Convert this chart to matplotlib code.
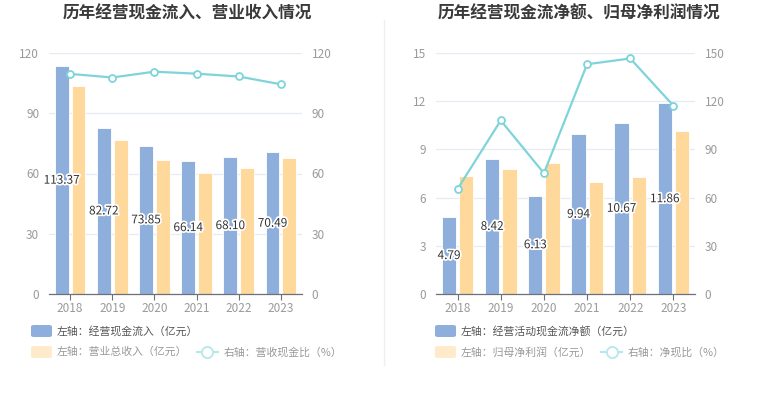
import matplotlib
matplotlib.use("Agg")
import matplotlib.pyplot as plt
import matplotlib.patheffects as pe
from matplotlib.patches import FancyBboxPatch
from matplotlib.lines import Line2D
import numpy as np

plt.rcParams['font.family'] = ['Noto Sans CJK SC', 'DejaVu Sans']

years = ['2018', '2019', '2020', '2021', '2022', '2023']

# Left chart
cash_inflow = [113.37, 82.72, 73.85, 66.14, 68.10, 70.49]
revenue = [103.4, 76.7, 66.7, 60.3, 62.9, 67.5]
rev_cash_ratio = [109.6, 107.8, 110.7, 109.7, 108.3, 104.4]

# Right chart
net_cash = [4.79, 8.42, 6.13, 9.94, 10.67, 11.86]
net_profit = [7.32, 7.80, 8.15, 6.95, 7.28, 10.12]
net_cash_ratio = [65.4, 108.0, 75.2, 143.0, 146.6, 117.2]

W, H = 765, 393
fig = plt.figure(figsize=(W / 100, H / 100), dpi=100)
fig.patch.set_facecolor('white')

BLUE = '#8eaedc'
ORANGE = '#ffd89b'
CYAN = '#7fd4da'
GRID = '#e6ebf3'
TICK = '#9a9a9a'


def px_axes(x0, x1, ytop, ybot):
    return fig.add_axes([x0 / W, (H - ybot) / H, (x1 - x0) / W, (ybot - ytop) / H])


def draw_panel(x0, x1, bars1, bars2, ratio, ymax, rmax, nint, title, tx, leg1, leg2, leg3, lx):
    ax = px_axes(x0, x1, 53, 294)
    x = np.arange(len(years))
    bw = 0.33
    ax.bar(x - bw / 2 - 0.035, bars1, width=bw, color=BLUE, edgecolor='white', linewidth=0.6, zorder=2)
    ax.bar(x + bw / 2 + 0.035, bars2, width=bw, color=ORANGE, edgecolor='white', linewidth=0.6, zorder=2)
    ax.set_xlim(-0.5, len(years) - 0.5)
    ax.set_ylim(0, ymax)
    ticks = np.linspace(0, ymax, nint + 1)
    ax.set_yticks(ticks)
    ax.set_yticklabels([f'{t:g}' for t in ticks])
    ax.yaxis.grid(True, color=GRID, linewidth=0.9, zorder=0)
    ax.set_axisbelow(True)
    for s in ['top', 'right', 'left']:
        ax.spines[s].set_visible(False)
    ax.spines['bottom'].set_color('#6e7079')
    ax.spines['bottom'].set_linewidth(0.9)
    ax.set_xticks(x)
    ax.set_xticklabels(years)
    ax.tick_params(axis='x', colors='#6e7079', length=4, width=0.8, labelcolor=TICK, labelsize=8.5, pad=2)
    ax.tick_params(axis='y', length=0, labelcolor=TICK, labelsize=8.5, pad=7)

    for xi, v in zip(x, bars1):
        ax.text(xi - bw / 2 - 0.035, v / 2, f'{v:.2f}', ha='center', va='center', fontsize=8.5,
                color='#333333', zorder=5,
                path_effects=[pe.withStroke(linewidth=2.5, foreground='white')])

    ax2 = ax.twinx()
    ax2.set_ylim(0, rmax)
    rt = np.linspace(0, rmax, nint + 1)
    ax2.set_yticks(rt)
    ax2.set_yticklabels([f'{t:g}' for t in rt])
    for s in ['top', 'right', 'left', 'bottom']:
        ax2.spines[s].set_visible(False)
    ax2.tick_params(axis='y', length=0, labelcolor=TICK, labelsize=8.5, pad=7)
    ax2.plot(x, ratio, color=CYAN, linewidth=1.6, marker='o', markersize=5,
             markerfacecolor='white', markeredgecolor=CYAN, markeredgewidth=1.3, zorder=4)

    fig.text(tx / W, 1 - 14 / H, title, ha='center', va='center', fontsize=12,
             fontweight='bold', color='#3a3a3a')

    # legend
    p1 = FancyBboxPatch(((lx) / W, (H - 337) / H), 21 / W, 12 / H,
                        boxstyle='round,pad=0,rounding_size=0.004', transform=fig.transFigure,
                        facecolor=BLUE, edgecolor='none')
    fig.patches.append(p1)
    fig.text((lx + 26) / W, 1 - 331 / H, leg1, ha='left', va='center', fontsize=7.8, color='#555555')
    p2 = FancyBboxPatch(((lx) / W, (H - 358) / H), 21 / W, 12 / H,
                        boxstyle='round,pad=0,rounding_size=0.004', transform=fig.transFigure,
                        facecolor='#ffeacb', edgecolor='none')
    fig.patches.append(p2)
    fig.text((lx + 26) / W, 1 - 352 / H, leg2, ha='left', va='center', fontsize=7.8, color='#999999')
    # line legend
    l2x = lx + 166
    fig.lines.append(Line2D([l2x / W, (l2x + 21) / W], [1 - 352 / H, 1 - 352 / H],
                            transform=fig.transFigure, color='#b5e8ec', linewidth=1.5))
    fig.lines.append(Line2D([(l2x + 10.5) / W], [1 - 352 / H], transform=fig.transFigure,
                            marker='o', markersize=8, markerfacecolor='white',
                            markeredgecolor='#b5e8ec', markeredgewidth=1.3, linestyle='none'))
    fig.text((l2x + 27) / W, 1 - 352 / H, leg3, ha='left', va='center', fontsize=7.8, color='#999999')


draw_panel(49, 302, cash_inflow, revenue, rev_cash_ratio, 120, 120, 4,
           '历年经营现金流入、营业收入情况', 187,
           '左轴：经营现金流入（亿元）', '左轴：营业总收入（亿元）', '右轴：营收现金比（%）', 31)
draw_panel(436, 695, net_cash, net_profit, net_cash_ratio, 15, 150, 5,
           '历年经营现金流净额、归母净利润情况', 579,
           '左轴：经营活动现金流净额（亿元）', '左轴：归母净利润（亿元）', '右轴：净现比（%）', 435)

fig.lines.append(Line2D([384 / W, 384 / W], [1 - 20 / H, 1 - 365 / H], transform=fig.transFigure,
                        color='#eeeeee', linewidth=1))

fig.savefig('out.png', dpi=100, facecolor='white')
